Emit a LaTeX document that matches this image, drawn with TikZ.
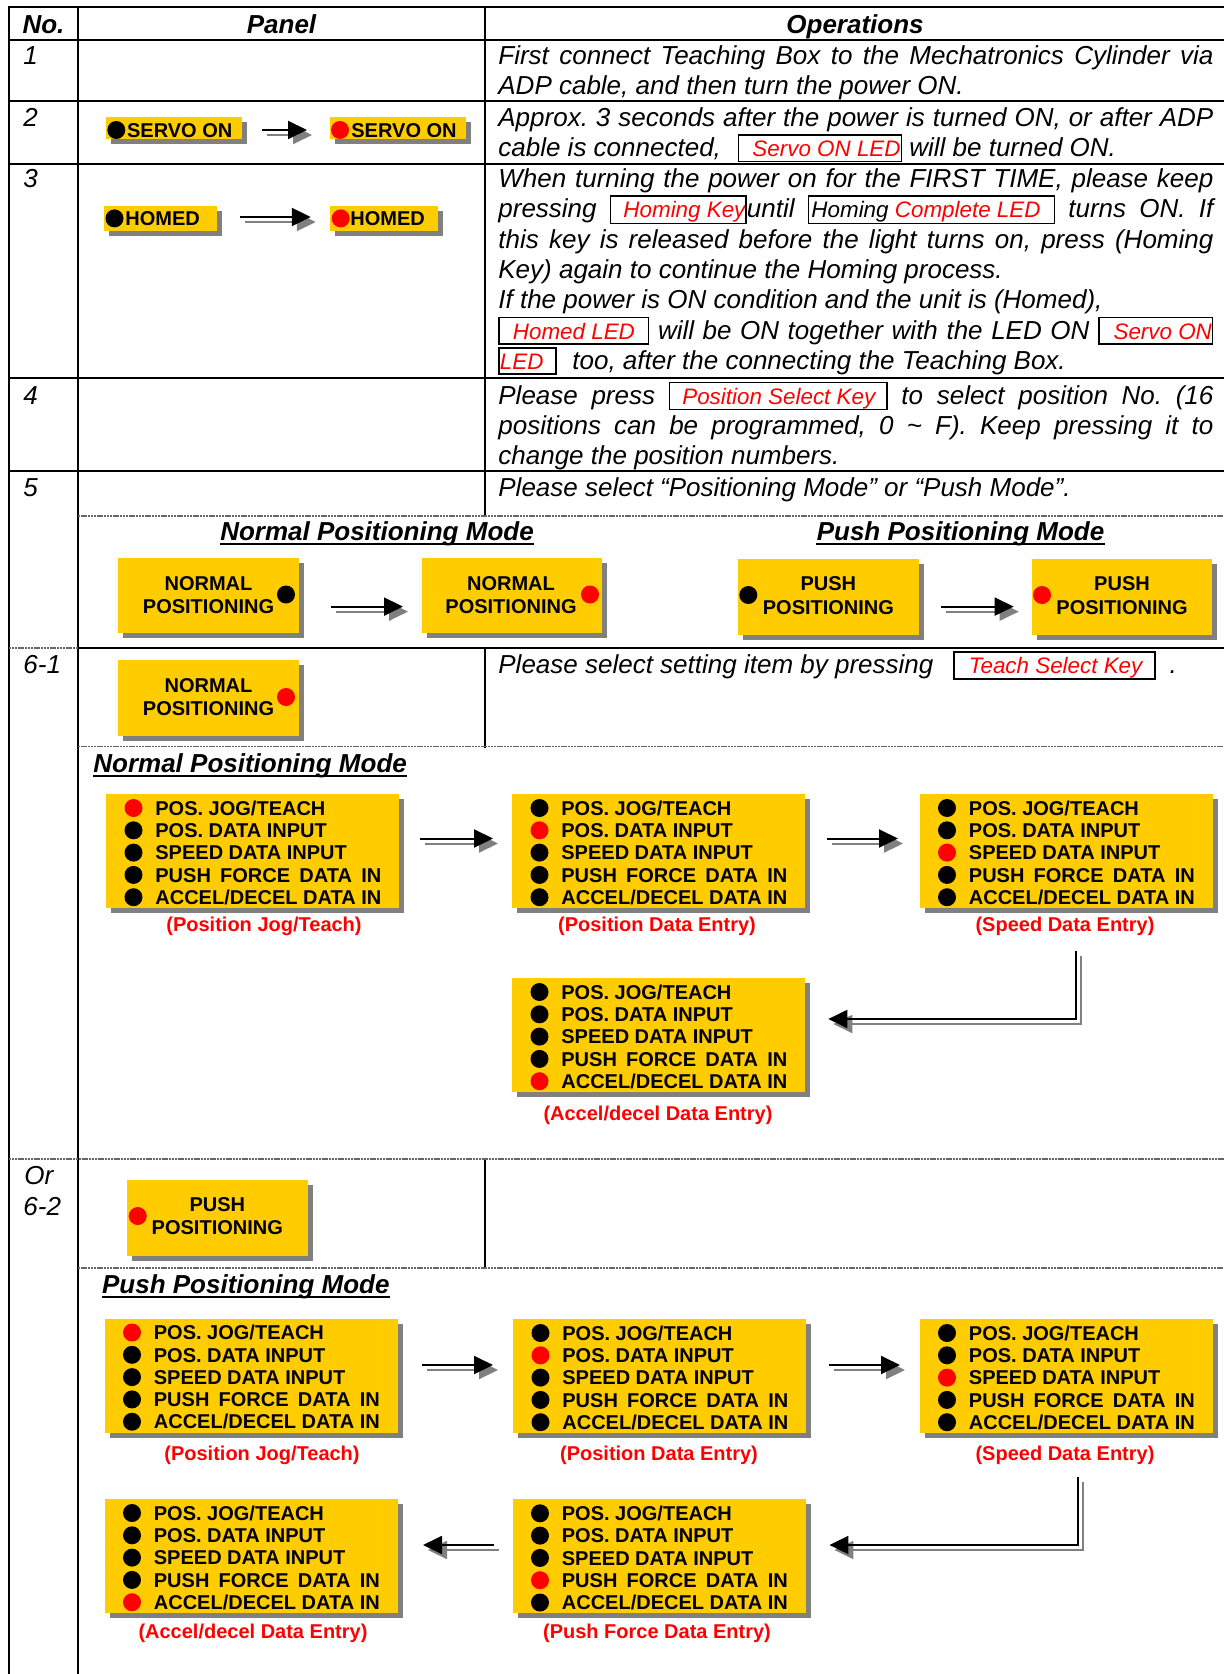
\documentclass[tikz,border=0pt]{standalone}
\usepackage{fontspec}
\setmainfont{Liberation Sans}
\usetikzlibrary{arrows.meta,shadows,fit}
\frenchspacing

\definecolor{ledyellow}{RGB}{255,204,0}
\definecolor{shadowgray}{RGB}{128,128,128}
\definecolor{ledred}{RGB}{255,0,0}

% fonts: operations text, headings, panel lettering, boxed key names
\newcommand\opfont{\fontsize{13}{15}\selectfont\itshape}
\newcommand\hdfont{\fontsize{13}{15}\selectfont\bfseries\itshape}
\newcommand\pfont{\fontsize{10}{11.7}\selectfont\bfseries}
\newcommand\kbfont{\fontsize{11.2}{13}\selectfont\itshape}

\newlength\accelw
\AtBeginDocument{\settowidth{\accelw}{\pfont ACCEL/DECEL DATA IN}}
% a justified line of the operations column (715 px wide)
\newcommand\jl[1]{\makebox[357.5pt][s]{#1}}
% framed key / LED name: left pad, right pad, red text
\newcommand\kb[3]{{\setlength{\fboxrule}{0.75pt}\setlength{\fboxsep}{0pt}%
  \fbox{\rule[-2pt]{0pt}{12.5pt}\hspace*{#1}{\kbfont\color{ledred}#3}\hspace*{#2}}}}
% lamp line spread to the width of the longest one
\newcommand\spreadline[1]{\makebox[\accelw][s]{#1}}

% LED panel: name, left x, top y, number of the lit (red) lamp
\newcommand\ledpanel[4]{%
  \node[ylw, fit={(#2,#3) (#2+293,#3+114)}] (#1) {};
  \foreach \t [count=\i] in {POS. JOG/TEACH, POS. DATA INPUT, SPEED DATA INPUT,
      {\spreadline{PUSH FORCE DATA IN}}, ACCEL/DECEL DATA IN}{%
    \ifnum\i=#4 \def\ledc{ledred}\else\def\ledc{black}\fi
    \node[led, fill=\ledc] (#1-d\i) at (#2+27.5, #3+14+22.3*\i-22.3) {};
    \node[ptxt, anchor=base west] (#1-t\i) at (#2+49, #3+21.2+22.3*\i-22.3) {\t};
  }%
}
% arrow with its grey drop shadow
\newcommand\sarrow[1]{\draw[arrshad] #1; \draw[arrmain] #1;}

\begin{document}
\begin{tikzpicture}[x=0.5pt,y=-0.5pt,
  tline/.style={line width=1pt, line cap=rect},
  dline/.style={line width=0.6pt, black!60, dash pattern=on 1.2pt off 0.4pt},
  optxt/.style={anchor=base west, inner sep=0pt, font=\opfont},
  hdr/.style={anchor=base, inner sep=0pt, font=\hdfont},
  ylw/.style={fill=ledyellow, inner sep=0pt,
    drop shadow={shadow xshift=2.5pt, shadow yshift=-2.5pt, fill=shadowgray, opacity=1}},
  led/.style={circle, inner sep=0pt, minimum size=9pt},
  ptxt/.style={inner sep=0pt, font=\pfont},
  ledcap/.style={anchor=base, inner sep=0pt, font=\pfont, text=ledred},
  arrmain/.style={line width=1pt, -{Triangle[length=9.5pt,width=9pt]}},
  arrshad/.style={arrmain, shadowgray, transform canvas={xshift=2.5pt,yshift=-2.5pt}},
]
\useasboundingbox (0,0) rectangle (1224,1674);
\fill[white] (0,0) rectangle (1224,1674);

% ---------- table rules ----------
\draw[tline] (8.5,7.3) -- (8.5,1680);
\draw[tline] (78,7.3) -- (78,1680);
\draw[tline] (484.5,7.3) -- (484.5,516);
\draw[tline] (484.5,648) -- (484.5,746.5);
\draw[tline] (484.5,1159) -- (484.5,1268);
\foreach \yy in {7.3,40,100.7,163.7,378,471}
  \draw[tline] (8.5,\yy) -- (1230,\yy);
\draw[tline] (78,648) -- (1230,648);
\draw[dline] (8.5,648) -- (78,648);
\draw[dline] (78,516) -- (1224,516);
\draw[dline] (78,746.5) -- (1224,746.5);
\draw[dline] (8.5,1159) -- (1224,1159);
\draw[dline] (78,1268) -- (1224,1268);

% ---------- header ----------
\node[hdr] (hNo) at (43.5,33.3) {No.};
\node[hdr] (hPanel) at (281.5,33.3) {Panel};
\node[hdr] (hOps) at (855,33.3) {Operations};

% ---------- step numbers ----------
\node[optxt] (n1) at (23,64.5) {1};
\node[optxt] (n2) at (23,126.5) {2};
\node[optxt] (n3) at (23,187.7) {3};
\node[optxt] (n4) at (23,404) {4};
\node[optxt] (n5) at (23,496) {5};
\node[optxt] (n61) at (23,673.5) {6-1};
\node[optxt] (nOr) at (24,1184) {Or};
\node[optxt] (n62) at (23,1215) {6-2};

% ---------- operations text ----------
\node[optxt] (r1a) at (498,64.5) {\jl{First connect Teaching Box to the Mechatronics Cylinder via}};
\node[optxt] (r1b) at (498,95) {ADP cable, and then turn the power ON.};

\node[optxt] (r2a) at (498,126.5) {\jl{Approx. 3 seconds after the power is turned ON, or after ADP}};
\node[optxt] (r2b) at (498,157) {cable is connected,\hspace{8.5pt}\kb{6.5pt}{0pt}{Servo ON LED} will be turned ON.};

\node[optxt] (r3a) at (498,187.7) {\jl{When turning the power on for the FIRST TIME, please keep}};
\node[optxt] (r3b) at (498,218) {\jl{pressing \kb{6pt}{0pt}{Homing Key}until \kb{1pt}{6.5pt}{\textcolor{black}{Homing} Complete LED} turns ON. If}};
\node[optxt] (r3c) at (498,248.3) {\jl{this key is released before the light turns on, press (Homing}};
\node[optxt] (r3d) at (498,278.6) {Key) again to continue the Homing process.};
\node[optxt] (r3e) at (498,308.9) {If the power is ON condition and the unit is (Homed),};
\node[optxt] (r3f) at (498,339.2) {\jl{\kb{6.5pt}{6.5pt}{Homed LED} will be ON together with the LED ON \kb{7pt}{0pt}{Servo ON}}};
\node[optxt] (r3g) at (498,369.5) {\kb{0pt}{6pt}{LED}\hspace{7.7pt}too, after the connecting the Teaching Box.};

\node[optxt] (r4a) at (498,404) {\jl{Please press \kb{6pt}{5.5pt}{Position Select Key} to select position No. (16}};
\node[optxt] (r4b) at (498,434.3) {\jl{positions can be programmed, 0 \textasciitilde{} F). Keep pressing it to}};
\node[optxt] (r4c) at (498,464.6) {change the position numbers.};

\node[optxt] (r5a) at (498,496) {Please select “Positioning Mode” or “Push Mode”.};

\node[optxt] (r61a) at (498,673.5) {Please select setting item by pressing\hspace{10pt}\kb{7pt}{5.8pt}{Teach Select Key}\hspace{7pt}.};

% ---------- step 2: servo lamp ----------
\node[ylw, fit={(106,117) (241.7,139.3)}] (srv1) {};
\node[led, fill=black] (srv1d) at (116.3,130) {};
\node[ptxt, anchor=base west] (srv1t) at (126.7,137.3) {SERVO ON};
\node[ylw, fit={(330,117) (465.7,139.3)}] (srv2) {};
\node[led, fill=ledred] (srv2d) at (340,130) {};
\node[ptxt, anchor=base west] (srv2t) at (351,137.3) {SERVO ON};
\coordinate (a1s) at (262,130); \coordinate (a1e) at (307,130);
\sarrow{(a1s) -- (a1e)}

% ---------- step 3: homed lamp ----------
\node[ylw, fit={(104,206) (217,230.7)}] (hom1) {};
\node[led, fill=black] (hom1d) at (114.5,218.4) {};
\node[ptxt, anchor=base west] (hom1t) at (125,225.4) {HOMED};
\node[ylw, fit={(330,206) (438,230.7)}] (hom2) {};
\node[led, fill=ledred] (hom2d) at (340.7,218.4) {};
\node[ptxt, anchor=base west] (hom2t) at (350,225.4) {HOMED};
\coordinate (a2s) at (240.3,217); \coordinate (a2e) at (310.8,217);
\sarrow{(a2s) -- (a2e)}

% ---------- step 5: mode selection ----------
\node[hdr] (hNorm) at (377,540.7) {Normal Positioning Mode};
\draw[line width=1pt] ([yshift=-1.8pt]hNorm.base west) -- ([yshift=-1.8pt]hNorm.base east);
\node[hdr] (hPush) at (960.5,540.7) {Push Positioning Mode};
\draw[line width=1pt] ([yshift=-1.8pt]hPush.base west) -- ([yshift=-1.8pt]hPush.base east);

\node[ylw, fit={(118,558) (298.5,633.3)}] (mA) {};
\node[led, fill=black] (mAd) at (286,594.5) {};
\node[ptxt, align=center] (mAt) at (208.5,595) {NORMAL\\POSITIONING};
\node[ylw, fit={(422,558) (602,633.3)}] (mB) {};
\node[led, fill=ledred] (mBd) at (590,594.5) {};
\node[ptxt, align=center] (mBt) at (511,595) {NORMAL\\POSITIONING};
\coordinate (a3s) at (331,606.6); \coordinate (a3e) at (403,606.6);
\sarrow{(a3s) -- (a3e)}

\node[ylw, fit={(738,559) (919,635)}] (mC) {};
\node[led, fill=black] (mCd) at (748.3,595) {};
\node[ptxt, align=center] (mCt) at (828.4,595.5) {PUSH\\POSITIONING};
\node[ylw, fit={(1032,559) (1212.4,635)}] (mD) {};
\node[led, fill=ledred] (mDd) at (1042,595) {};
\node[ptxt, align=center] (mDt) at (1122,595.5) {PUSH\\POSITIONING};
\coordinate (a4s) at (941,606.6); \coordinate (a4e) at (1013.7,606.6);
\sarrow{(a4s) -- (a4e)}

% ---------- step 6-1: normal positioning ----------
\node[ylw, fit={(118,660.3) (298.5,735.7)}] (mE) {};
\node[led, fill=ledred] (mEd) at (286,697) {};
\node[ptxt, align=center] (mEt) at (208.5,697) {NORMAL\\POSITIONING};

\node[hdr, anchor=base west] (hNorm2) at (93,772) {Normal Positioning Mode};
\draw[line width=1pt] ([yshift=-1.8pt]hNorm2.base west) -- ([yshift=-1.8pt]hNorm2.base east);

\ledpanel{N1}{106}{794}{1}
\ledpanel{N2}{512}{794}{2}
\ledpanel{N3}{919.5}{794}{3}
\ledpanel{N4}{512}{978}{5}
\node[ledcap] (N1c) at (264,931.5) {(Position Jog/Teach)};
\node[ledcap] (N2c) at (657,931.5) {(Position Data Entry)};
\node[ledcap] (N3c) at (1065,931.5) {(Speed Data Entry)};
\node[ledcap] (N4c) at (658,1120.5) {(Accel/decel Data Entry)};

\coordinate (a5s) at (420,838.5); \coordinate (a5e) at (493,838.5);
\sarrow{(a5s) -- (a5e)}
\coordinate (a6s) at (826.6,838.5); \coordinate (a6e) at (898,838.5);
\sarrow{(a6s) -- (a6e)}
\coordinate (a7s) at (1075.7,951); \coordinate (a7e) at (828.3,1019);
\sarrow{(a7s) |- (a7e)}

% ---------- step 6-2: push positioning ----------
\node[ylw, fit={(127,1180) (307.7,1255.7)}] (mF) {};
\node[led, fill=ledred] (mFd) at (137.7,1216) {};
\node[ptxt, align=center] (mFt) at (217.3,1216) {PUSH\\POSITIONING};

\node[hdr, anchor=base west] (hPush2) at (101.7,1293) {Push Positioning Mode};
\draw[line width=1pt] ([yshift=-1.8pt]hPush2.base west) -- ([yshift=-1.8pt]hPush2.base east);

\ledpanel{P1}{104.5}{1318.5}{1}
\ledpanel{P2}{513}{1319}{2}
\ledpanel{P3}{919.5}{1319}{3}
\ledpanel{P4}{104.5}{1499}{5}
\ledpanel{P5}{512.5}{1499.3}{4}
\node[ledcap] (P1c) at (262,1460) {(Position Jog/Teach)};
\node[ledcap] (P2c) at (659,1460) {(Position Data Entry)};
\node[ledcap] (P3c) at (1065,1460) {(Speed Data Entry)};
\node[ledcap] (P4c) at (253,1638.5) {(Accel/decel Data Entry)};
\node[ledcap] (P5c) at (657,1638.5) {(Push Force Data Entry)};

\coordinate (a8s) at (422,1365); \coordinate (a8e) at (493,1365);
\sarrow{(a8s) -- (a8e)}
\coordinate (a9s) at (829,1365); \coordinate (a9e) at (900,1365);
\sarrow{(a9s) -- (a9e)}
\coordinate (a10s) at (1077.5,1476.7); \coordinate (a10e) at (829.4,1545);
\sarrow{(a10s) |- (a10e)}
\coordinate (a11s) at (494,1545); \coordinate (a11e) at (423,1545);
\sarrow{(a11s) -- (a11e)}
\end{tikzpicture}
\end{document}
